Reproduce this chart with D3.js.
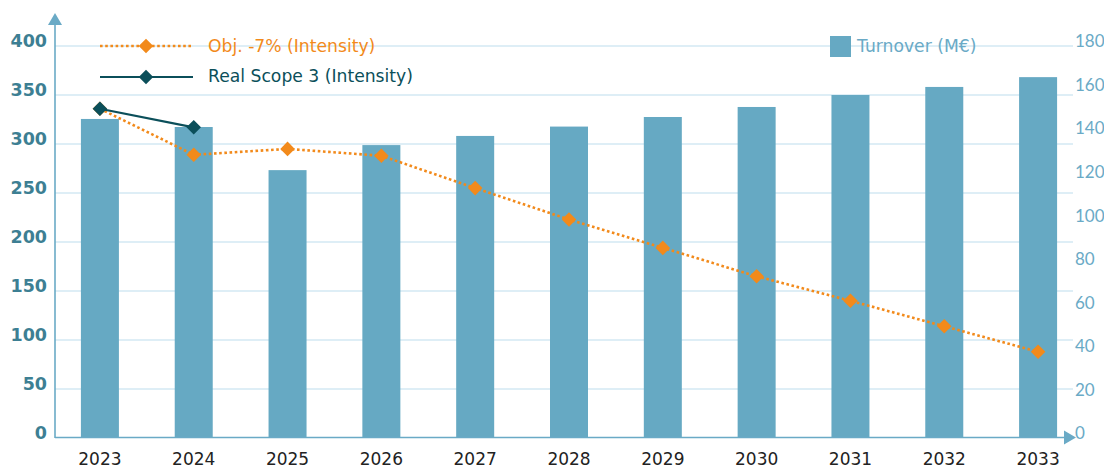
<!DOCTYPE html>
<html>
<head>
<meta charset="utf-8">
<script src="https://cdn.jsdelivr.net/npm/d3@7"></script>
<style>
  body { margin: 0; background: #fff; }
  svg { display: block; font-family: "DejaVu Sans", "Noto Sans", sans-serif; }
</style>
</head>
<body>
<svg id="chart" width="1104" height="468"></svg>
<script>
// Years on the x axis
const years = ["2023","2024","2025","2026","2027","2028","2029","2030","2031","2032","2033"];
// Turnover in M€ (right axis)
const turnover = [146.5, 142.8, 123, 134.5, 138.7, 143, 147.4, 152, 157.5, 161.2, 165.7];
// Objective intensity path, -7% (left axis)
const objective = [336, 289, 295, 288, 255, 223, 194, 165, 140, 114, 88];
// Measured Scope 3 intensity (left axis)
const realScope3 = [336, 317];
// Tick labels
const leftTicks = [0, 50, 100, 150, 200, 250, 300, 350, 400];
const rightTicks = [0, 20, 40, 60, 80, 100, 120, 140, 160, 180];

const svg = d3.select("#chart");
const axisColor = "#6aaac6";
const barColor = "#66a9c3";
const orange = "#f28a1b";
const teal = "#0b4f5a";

const x = d3.scaleBand().domain(years).range([53, 1085]).padding(0);
const yL = d3.scaleLinear().domain([0, 400]).range([438, 46]);
const yR = d3.scaleLinear().domain([0, 180]).range([438, 46]);
const barW = 38;

// Horizontal gridlines on the left scale
svg.append("g").selectAll("line").data(leftTicks.filter(d => d > 0)).join("line")
  .attr("x1", 55).attr("x2", 1073)
  .attr("y1", d => yL(d)).attr("y2", d => yL(d))
  .attr("stroke", "#d3e9f3").attr("stroke-width", 1.3);

// Turnover bars
svg.append("g").selectAll("rect").data(turnover).join("rect")
  .attr("x", (d, i) => x(years[i]) + x.bandwidth() / 2 - barW / 2)
  .attr("width", barW)
  .attr("y", d => yR(d))
  .attr("height", d => yR(0) - yR(d))
  .attr("fill", barColor);

// Axis lines with arrowheads
svg.append("line").attr("x1", 55).attr("x2", 55).attr("y1", 438).attr("y2", 22)
  .attr("stroke", axisColor).attr("stroke-width", 1.6);
svg.append("path").attr("d", "M48,25 L55,13 L62,25 Z").attr("fill", axisColor);
svg.append("line").attr("x1", 55).attr("x2", 1066).attr("y1", 437.5).attr("y2", 437.5)
  .attr("stroke", axisColor).attr("stroke-width", 1.6);
svg.append("path").attr("d", "M1064,430.5 L1076,437.5 L1064,444.5 Z").attr("fill", axisColor);

// Left axis labels
const leftAxis = d3.axisLeft(yL).tickValues(leftTicks).tickSize(0).tickPadding(0);
const gL = svg.append("g").attr("transform", "translate(47,0)").call(leftAxis);
gL.select(".domain").remove();
gL.attr("font-family", "'DejaVu Sans', sans-serif");
gL.selectAll("text")
  .attr("fill", "#3d7f93").attr("font-size", 17.5).attr("font-weight", "bold")
  .attr("dy", "0.05em");

// Right axis labels
const rightAxis = d3.axisRight(yR).tickValues(rightTicks).tickSize(0).tickPadding(0);
const gR = svg.append("g").attr("transform", "translate(1075,0)").call(rightAxis);
gR.select(".domain").remove();
gR.attr("font-family", "Lato, 'Noto Sans', sans-serif");
gR.selectAll("text")
  .attr("fill", axisColor).attr("font-size", 17)
  .attr("dy", "0.05em");

// Year labels
const bottomAxis = d3.axisBottom(x).tickSize(0).tickPadding(0);
const gB = svg.append("g").attr("transform", "translate(0,465)").call(bottomAxis);
gB.select(".domain").remove();
gB.attr("font-family", "'DejaVu Sans', sans-serif");
gB.selectAll("text").attr("fill", "#222").attr("font-size", 17).attr("dy", "0");

const cx = (i) => x(years[i]) + x.bandwidth() / 2;
const diamond = d3.symbol().type(d3.symbolDiamond2).size(135);

// Objective line (dotted)
svg.append("path").datum(objective)
  .attr("d", d3.line().x((d, i) => cx(i)).y(d => yL(d)))
  .attr("fill", "none").attr("stroke", orange).attr("stroke-width", 2.6)
  .attr("stroke-dasharray", "2.6,2.6");
svg.append("g").selectAll("path").data(objective).join("path")
  .attr("d", diamond)
  .attr("transform", (d, i) => `translate(${cx(i)},${yL(d)})`)
  .attr("fill", orange);

// Real Scope 3 line
svg.append("path").datum(realScope3)
  .attr("d", d3.line().x((d, i) => cx(i)).y(d => yL(d)))
  .attr("fill", "none").attr("stroke", teal).attr("stroke-width", 2.2);
svg.append("g").selectAll("path").data(realScope3).join("path")
  .attr("d", diamond)
  .attr("transform", (d, i) => `translate(${cx(i)},${yL(d)})`)
  .attr("fill", teal);

// Legend
const lg = svg.append("g");
lg.append("line").attr("x1", 100).attr("x2", 193).attr("y1", 46).attr("y2", 46)
  .attr("stroke", orange).attr("stroke-width", 2.6).attr("stroke-dasharray", "2.6,2.6");
lg.append("path").attr("d", diamond).attr("transform", "translate(146,46)").attr("fill", orange);
lg.append("text").attr("x", 208).attr("y", 52).attr("font-size", 17.2).attr("fill", orange)
  .text("Obj. -7% (Intensity)");
lg.append("line").attr("x1", 100).attr("x2", 193).attr("y1", 77).attr("y2", 77)
  .attr("stroke", teal).attr("stroke-width", 2.2);
lg.append("path").attr("d", diamond).attr("transform", "translate(146,77)").attr("fill", teal);
lg.append("text").attr("x", 208).attr("y", 82).attr("font-size", 17.2).attr("fill", teal)
  .text("Real Scope 3 (Intensity)");
lg.append("rect").attr("x", 830).attr("y", 36).attr("width", 21).attr("height", 21).attr("fill", barColor);
lg.append("text").attr("x", 857).attr("y", 52).attr("font-size", 17.2).attr("fill", axisColor)
  .text("Turnover (M€)");
</script>
</body>
</html>
